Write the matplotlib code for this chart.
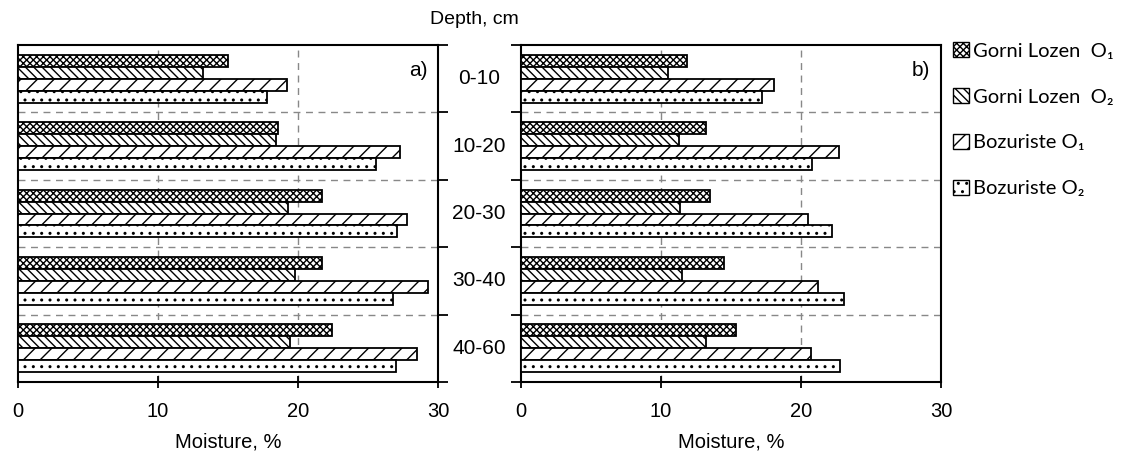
import matplotlib
matplotlib.use("Agg")
import matplotlib.pyplot as plt
import matplotlib.transforms as mtransforms
from matplotlib.patches import Patch
import numpy as np

depths = ["0-10", "10-20", "20-30", "30-40", "40-60"]
series = ["Gorni Lozen  O\u2081", "Gorni Lozen  O\u2082", "Bozuriste O\u2081", "Bozuriste O\u2082"]

# panel a)
a_gl_o1 = [15.0, 18.6, 21.7, 21.7, 22.4]
a_gl_o2 = [13.2, 18.4, 19.3, 19.8, 19.4]
a_bz_o1 = [19.2, 27.3, 27.8, 29.3, 28.5]
a_bz_o2 = [17.8, 25.6, 27.1, 26.8, 27.0]
# panel b)
b_gl_o1 = [11.9, 13.2, 13.5, 14.5, 15.4]
b_gl_o2 = [10.5, 11.3, 11.4, 11.5, 13.2]
b_bz_o1 = [18.1, 22.7, 20.5, 21.2, 20.7]
b_bz_o2 = [17.2, 20.8, 22.2, 23.1, 22.8]

xticks = [0, 10, 20, 30]

hatches = ["xxxxx", "\\\\\\\\", "//", ".."]

plt.rcParams['font.family'] = ['Liberation Sans', 'DejaVu Sans']
plt.rcParams['hatch.linewidth'] = 1.0
plt.rcParams['hatch.color'] = 'black'

W, H = 1129, 457
fig = plt.figure(figsize=(W / 100, H / 100), dpi=100)

def ax_rect(x0, x1, y0, y1):
    return [x0 / W, 1 - y1 / H, (x1 - x0) / W, (y1 - y0) / H]

axA = fig.add_axes(ax_rect(18, 438, 45, 382))
axB = fig.add_axes(ax_rect(520.5, 941, 45, 382))

bar_h = 0.178
offsets = np.array([-1.5, -0.5, 0.5, 1.5]) * bar_h
y = np.arange(len(depths))

def draw(ax, data, tag, side):
    for k, vals in enumerate(data):
        ax.barh(y + offsets[k], vals, height=bar_h, color='white',
                edgecolor='black', linewidth=1.3, hatch=hatches[k], zorder=3)
    ax.set_xlim(0, 30)
    ax.set_ylim(len(depths) - 0.5, -0.5)
    ax.set_xticks(xticks)
    ax.set_xticklabels([str(t) for t in xticks], fontsize=14.5)
    ax.tick_params(axis='x', direction='inout', length=9, width=1.3, pad=10)
    bounds = np.arange(-0.5, len(depths) + 0.5, 1.0)
    ax.set_yticks(bounds)
    ax.set_yticklabels([])
    if side == 'right':
        ax.yaxis.tick_right()
    else:
        ax.yaxis.tick_left()
    ax.tick_params(axis='y', direction='out', length=7, width=1.3)
    for v in bounds[1:-1]:
        ax.axhline(v, color='#888888', linestyle=(0, (5, 4)), linewidth=1.0, zorder=1)
    for v in [10, 20]:
        ax.axvline(v, color='#888888', linestyle=(0, (5, 4)), linewidth=1.0, zorder=1)
    for s in ax.spines.values():
        s.set_linewidth(1.5)
    ax.set_xlabel("Moisture, %", fontsize=14.5, labelpad=8)
    ax.text(0.975, 0.925, tag, transform=ax.transAxes, ha='right', va='center', fontsize=15)

draw(axA, [a_gl_o1, a_gl_o2, a_bz_o1, a_bz_o2], "a)", 'right')
draw(axB, [b_gl_o1, b_gl_o2, b_bz_o1, b_bz_o2], "b)", 'left')

trans = mtransforms.blended_transform_factory(fig.transFigure, axA.transData)
for i, d in enumerate(depths):
    fig.text(479 / W, i, d, transform=trans, ha='center', va='center', fontsize=15)

fig.text(474 / W, 1 - 20 / H, "Depth, cm", ha='center', va='center', fontsize=14)

handles = [Patch(facecolor='white', edgecolor='black', hatch=h, linewidth=1.0) for h in hatches]
fig.legend(handles, series, loc='upper left', bbox_to_anchor=(953 / W, 1 - 42 / H),
           frameon=False, prop={'family': ['Lato', 'DejaVu Sans'], 'size': 14.5},
           handlelength=0.8, handleheight=0.8, handletextpad=0.2, labelspacing=1.4,
           borderaxespad=0, borderpad=0)

fig.savefig("out.png", dpi=100)
